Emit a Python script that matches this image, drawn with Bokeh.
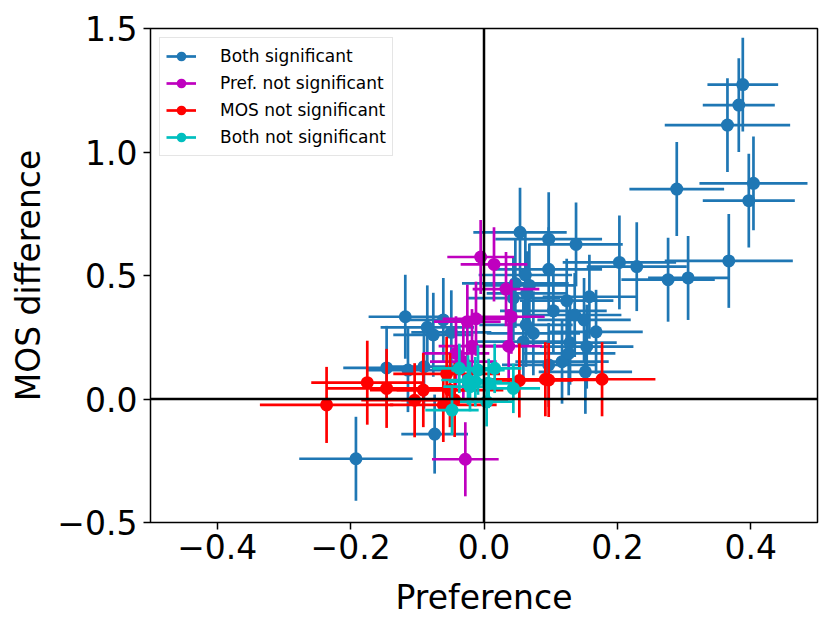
from bokeh.plotting import figure
from bokeh.models import (ColumnDataSource, Range1d, FixedTicker, CustomJSTickFormatter,
                          Span, Legend, LegendItem)
from bokeh.embed import file_html
from bokeh.resources import INLINE

# ---- data ----
both_x = [0.388, 0.382, 0.365, 0.289, 0.404, 0.397, 0.367, 0.203, 0.229, 0.276, 0.306,
          0.054, 0.097, 0.138, 0.097, 0.062, 0.047, 0.068, 0.044, 0.064, 0.124, 0.158,
          0.104, 0.136, 0.150, 0.063, 0.168, 0.074, 0.059, 0.129, 0.154, 0.097, 0.117,
          0.152, 0.127, -0.118, -0.061, -0.085, -0.076, -0.049, -0.146, -0.114, -0.090,
          -0.074, -0.192]
both_y = [1.273, 1.190, 1.109, 0.850, 0.873, 0.803, 0.559, 0.553, 0.536, 0.483, 0.490,
          0.675, 0.647, 0.626, 0.525, 0.502, 0.468, 0.460, 0.408, 0.428, 0.398, 0.414,
          0.357, 0.340, 0.320, 0.300, 0.272, 0.266, 0.232, 0.228, 0.212, 0.138, 0.151,
          0.110, 0.185, 0.333, 0.320, 0.290, 0.260, 0.270, 0.126, 0.117, 0.131,
          -0.142, -0.242]
both_xerr = [0.053, 0.054, 0.094, 0.071, 0.081, 0.069, 0.096, 0.085, 0.075, 0.070, 0.060,
             0.070, 0.080, 0.070, 0.080, 0.070, 0.080, 0.070, 0.070, 0.060, 0.070, 0.070,
             0.080, 0.070, 0.070, 0.070, 0.070, 0.070, 0.070, 0.070, 0.070, 0.070, 0.070,
             0.070, 0.070, 0.055, 0.060, 0.070, 0.060, 0.060, 0.065, 0.060, 0.060,
             0.050, 0.085]
both_yerr = [0.19, 0.19, 0.19, 0.19, 0.19, 0.19, 0.19, 0.19, 0.18, 0.17, 0.17,
             0.18, 0.19, 0.17, 0.17, 0.17, 0.18, 0.17, 0.17, 0.17, 0.17, 0.17,
             0.17, 0.17, 0.17, 0.17, 0.17, 0.17, 0.17, 0.17, 0.17, 0.17, 0.17,
             0.17, 0.17, 0.17, 0.17, 0.17, 0.17, 0.17, 0.17, 0.17, 0.17,
             0.16, 0.17]

pref_x = [-0.005, 0.015, 0.033, 0.041, -0.012, -0.025, 0.037, -0.018, -0.042, -0.031, -0.028]
pref_y = [0.575, 0.545, 0.445, 0.333, 0.325, 0.313, 0.214, 0.214, 0.185, 0.151, -0.244]
pref_xerr = [0.05, 0.05, 0.05, 0.05, 0.05, 0.05, 0.05, 0.05, 0.05, 0.05, 0.05]
pref_yerr = [0.15, 0.15, 0.15, 0.15, 0.15, 0.15, 0.15, 0.15, 0.15, 0.15, 0.15]

mos_x = [-0.236, -0.175, -0.146, -0.091, -0.104, -0.056, -0.051, -0.044, -0.061,
         0.053, 0.092, 0.097, 0.177]
mos_y = [-0.024, 0.066, 0.043, 0.036, -0.005, 0.102, 0.036, -0.004, -0.024,
         0.075, 0.080, 0.077, 0.080]
mos_xerr = [0.10, 0.084, 0.09, 0.08, 0.08, 0.08, 0.08, 0.08, 0.08, 0.08, 0.08, 0.08, 0.08]
mos_yerr = [0.154, 0.17, 0.16, 0.15, 0.15, 0.15, 0.15, 0.15, 0.15, 0.15, 0.15, 0.15, 0.15]

none_x = [-0.037, -0.009, 0.016, -0.024, -0.013, 0.007, 0.044, 0.004, -0.048, -0.021]
none_y = [0.124, 0.117, 0.124, 0.077, 0.070, 0.063, 0.043, -0.011, -0.045, 0.050]
none_xerr = [0.04, 0.04, 0.04, 0.04, 0.04, 0.04, 0.04, 0.04, 0.04, 0.04]
none_yerr = [0.10, 0.10, 0.10, 0.10, 0.10, 0.10, 0.10, 0.10, 0.10, 0.10]

series_names = ["Both significant", "Pref. not significant", "MOS not significant", "Both not significant"]
series_colors = ["#1f77b4", "#bf00bf", "#ff0000", "#00bfbf"]
x_ticks = [-0.4, -0.2, 0.0, 0.2, 0.4]
y_ticks = [-0.5, 0.0, 0.5, 1.0, 1.5]

FONT = "DejaVu Sans"

p = figure(frame_width=667, frame_height=494, output_backend="svg", toolbar_location=None,
           x_range=Range1d(-0.5, 0.5), y_range=Range1d(-0.5, 1.5),
           min_border_left=150, min_border_top=28, min_border_right=6, min_border_bottom=88)
p.background_fill_color = "white"
p.border_fill_color = "white"
p.outline_line_color = "black"
p.outline_line_width = 1.5
p.outline_line_alpha = 1.0
p.xgrid.visible = False
p.ygrid.visible = False

fmt = CustomJSTickFormatter(code="return tick.toFixed(1).replace('-', '\u2212');")
for ax, ticks in ((p.xaxis[0], x_ticks), (p.yaxis[0], y_ticks)):
    ax.ticker = FixedTicker(ticks=ticks)
    ax.formatter = fmt
    ax.axis_line_color = None
    ax.major_tick_line_color = "black"
    ax.major_tick_line_width = 1.5
    ax.major_tick_out = 7
    ax.major_tick_in = 0
    ax.minor_tick_line_color = None
    ax.major_label_text_font = FONT
    ax.major_label_text_font_size = "33px"
    ax.major_label_text_color = "black"
    ax.axis_label_text_font = FONT
    ax.axis_label_text_font_size = "33px"
    ax.axis_label_text_font_style = "normal"
    ax.axis_label_text_color = "black"
p.xaxis.axis_label = "Preference"
p.yaxis.axis_label = "MOS difference"
p.xaxis.major_label_standoff = 4
p.yaxis.major_label_standoff = 6
p.xaxis.axis_label_standoff = 16
p.yaxis.axis_label_standoff = 6

p.add_layout(Span(location=0, dimension="height", line_color="black", line_width=2.5))
p.add_layout(Span(location=0, dimension="width", line_color="black", line_width=2.5))

all_data = [(both_x, both_y, both_xerr, both_yerr),
            (pref_x, pref_y, pref_xerr, pref_yerr),
            (mos_x, mos_y, mos_xerr, mos_yerr),
            (none_x, none_y, none_xerr, none_yerr)]

items = []
for (xs, ys, xe, ye), name, col in zip(all_data, series_names, series_colors):
    src = ColumnDataSource(dict(
        x=xs, y=ys,
        xl=[a - e for a, e in zip(xs, xe)], xh=[a + e for a, e in zip(xs, xe)],
        yl=[a - e for a, e in zip(ys, ye)], yh=[a + e for a, e in zip(ys, ye)]))
    hs = p.segment(x0="xl", y0="y", x1="xh", y1="y", source=src, line_color=col, line_width=2.7)
    vs = p.segment(x0="x", y0="yl", x1="x", y1="yh", source=src, line_color=col, line_width=2.7)
    sc = p.scatter(x="x", y="y", source=src, marker="circle", size=13,
                   fill_color=col, line_color=col, line_width=0)
    items.append(LegendItem(label=name, renderers=[hs, sc]))

legend = Legend(items=items, location="top_left")
legend.label_text_font = FONT
legend.label_text_font_size = "17px"
legend.label_text_color = "black"
legend.glyph_width = 30
legend.glyph_height = 24
legend.label_height = 24
legend.spacing = 3
legend.padding = 6
legend.margin = 9
legend.label_standoff = 24
legend.border_line_color = "#cccccc"
legend.border_line_width = 1
legend.background_fill_color = "white"
legend.background_fill_alpha = 0.8
p.add_layout(legend)

open("out.html", "w").write(file_html(p, INLINE))
